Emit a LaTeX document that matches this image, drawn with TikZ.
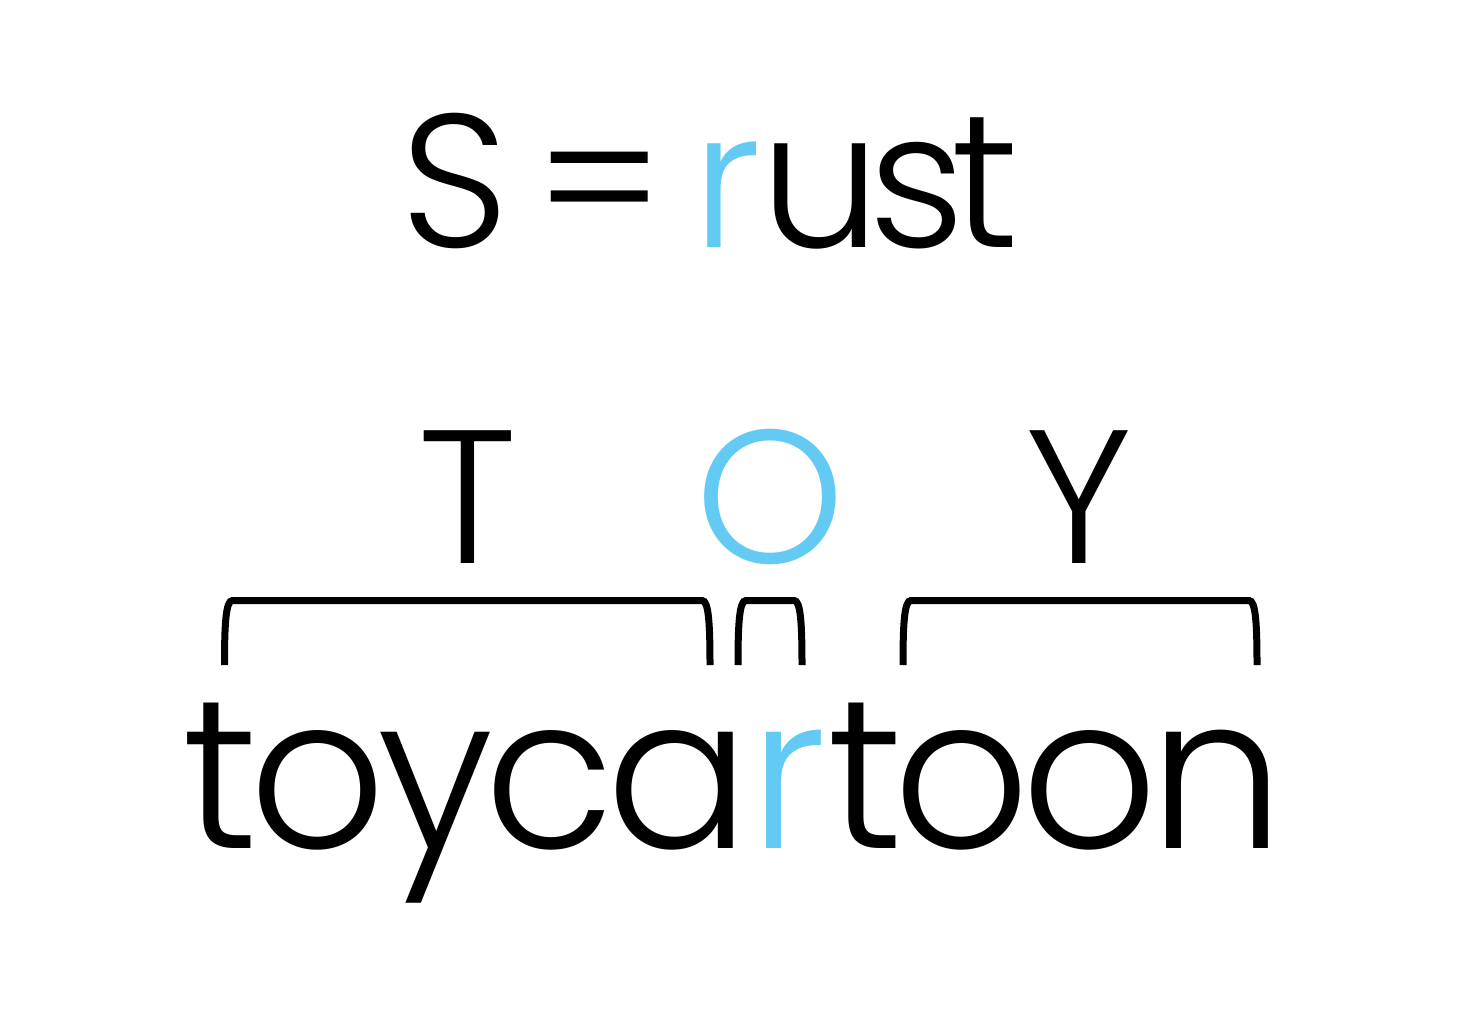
\documentclass[tikz,border=0pt]{standalone}
\usepackage{fontspec}
\setmainfont{Poppins}[UprightFont={* Light}]
\definecolor{skyblue}{RGB}{99,202,244}
\newcommand{\brkt}[2]{%
  \draw[brk] (#1,665) .. controls (#1,622) and (#1+1.5,600.5) .. (#1+8,600.5)
    -- (#2-8,600.5) .. controls (#2-1.5,600.5) and (#2,622) .. (#2,665);}
\tikzset{
  brk/.style={line width=7pt, black, line cap=butt},
  big/.style={inner sep=0pt, anchor=base, font=\fontsize{190}{190}\selectfont},
  tight/.style={inner sep=0pt, anchor=base, font=\fontsize{190}{190}\selectfont\addfontfeatures{LetterSpace=-7}},
  huge/.style={inner sep=0pt, anchor=base, font=\fontsize{213}{213}\selectfont\addfontfeatures{LetterSpace=-4.2}},
}
\begin{document}
\begin{tikzpicture}[x=1pt,y=-1pt]
\useasboundingbox (0,0) rectangle (1482,1034);
\fill[white] (0,0) rectangle (1482,1034);
\node[tight] (eq) at (710,247) {S\hspace{26pt}=\hspace{28pt}\textcolor{skyblue}{r}ust};
\node[big] (T) at (467.5,563) {T};
\node[big, text=skyblue] (O) at (770.5,563) {O};
\node[big] (Y) at (1079,563) {Y};
\node[huge] (word) at (733.5,848) {toyca\textcolor{skyblue}{r}toon};
\brkt{224.5}{710}
\brkt{738}{802}
\brkt{903}{1257}
\end{tikzpicture}
\end{document}
